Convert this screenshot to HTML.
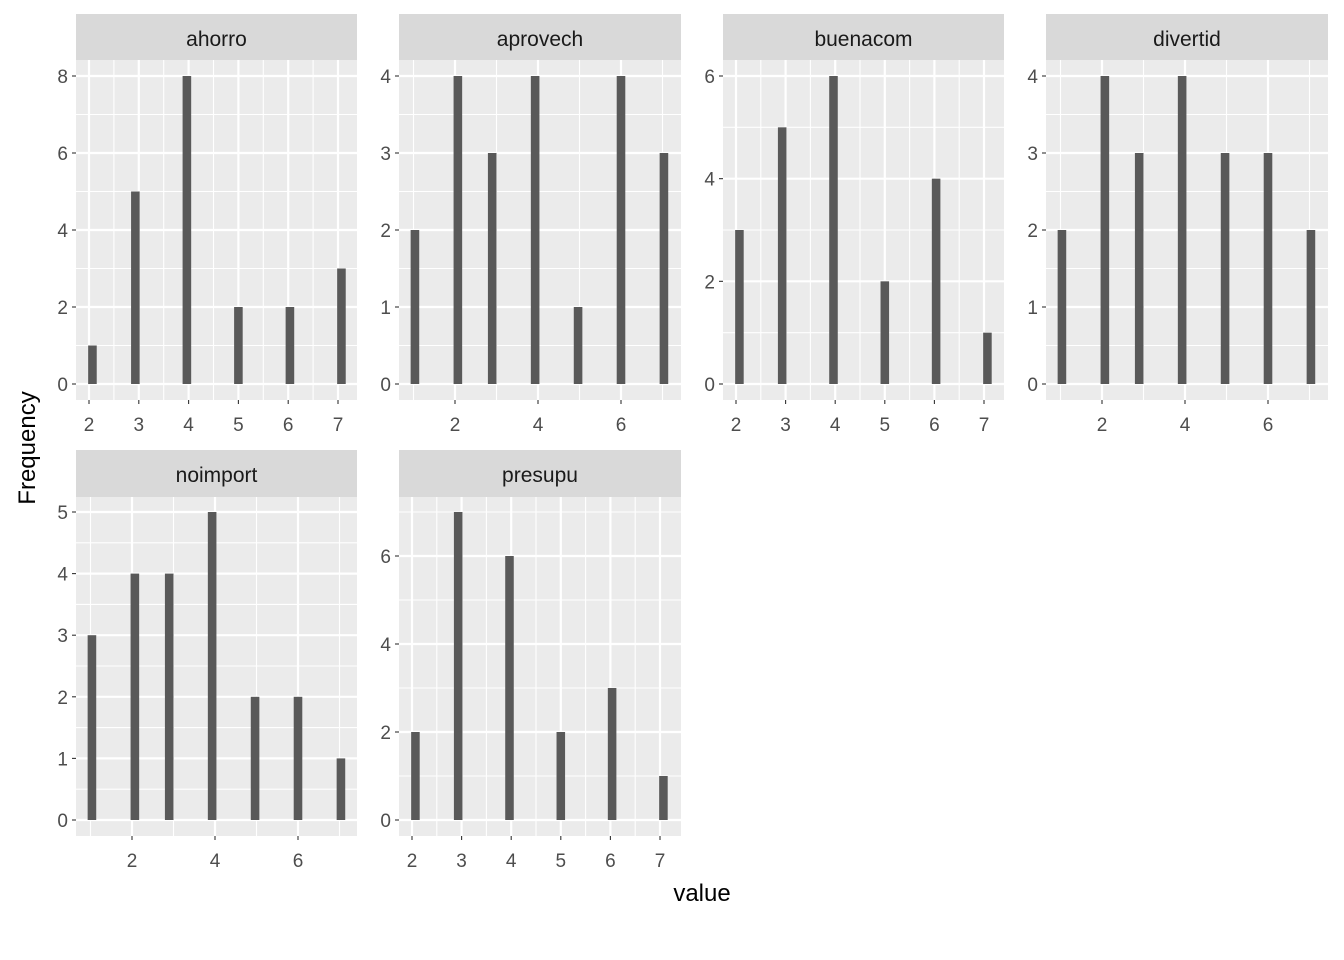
<!DOCTYPE html>
<html><head><meta charset="utf-8">
<style>
body{margin:0;background:#fff;}
svg{display:block;font-family:"Liberation Sans",Arial,sans-serif;}
</style></head>
<body>
<svg id="chart" width="1344" height="960">
<text x="702" y="901" font-size="24" text-anchor="middle" fill="#000">value</text>
<text x="35" y="448" font-size="24" text-anchor="middle" fill="#000" transform="rotate(-90 35 448)">Frequency</text>
</svg>
<script>
// data
const facetNames = ["ahorro","aprovech","buenacom","divertid","noimport","presupu"];
const ahorroValues = [2,3,4,5,6,7];
const ahorroCounts = [1,5,8,2,2,3];
const aprovechValues = [1,2,3,4,5,6,7];
const aprovechCounts = [2,4,3,4,1,4,3];
const buenacomValues = [2,3,4,5,6,7];
const buenacomCounts = [3,5,6,2,4,1];
const divertidValues = [1,2,3,4,5,6,7];
const divertidCounts = [2,4,3,4,3,3,2];
const noimportValues = [1,2,3,4,5,6,7];
const noimportCounts = [3,4,4,5,2,2,1];
const presupuValues = [2,3,4,5,6,7];
const presupuCounts = [2,7,6,2,3,1];
const xTicksA = [2,3,4,5,6,7];
const xTicksB = [2,4,6];
const yTicks = {ahorro:[0,2,4,6,8],aprovech:[0,1,2,3,4],buenacom:[0,2,4,6],divertid:[0,1,2,3,4],noimport:[0,1,2,3,4,5],presupu:[0,2,4,6]};

const NS="http://www.w3.org/2000/svg";
const svg=document.getElementById('chart');
function mk(tag,attrs,parent){const e=document.createElementNS(NS,tag);for(const k in attrs)e.setAttribute(k,attrs[k]);(parent||svg).appendChild(e);return e;}

const layout=[
 {l:76,r:357,st:14,pt:60,pb:400,x2:89,k:49.8,y0:384,yt:76},
 {l:399,r:681,st:14,pt:60,pb:400,x2:455,k:41.5,y0:384,yt:76},
 {l:723,r:1004,st:14,pt:60,pb:400,x2:736,k:49.6,y0:384,yt:76},
 {l:1046,r:1328,st:14,pt:60,pb:400,x2:1102,k:41.5,y0:384,yt:76},
 {l:76,r:357,st:450,pt:497,pb:836,x2:132,k:41.5,y0:820,yt:512},
 {l:399,r:681,st:450,pt:497,pb:836,x2:412,k:49.6,y0:820,yt:512}
];
const vals=[ahorroValues,aprovechValues,buenacomValues,divertidValues,noimportValues,presupuValues];
const cnts=[ahorroCounts,aprovechCounts,buenacomCounts,divertidCounts,noimportCounts,presupuCounts];
const xts=[xTicksA,xTicksB,xTicksA,xTicksB,xTicksB,xTicksA];

facetNames.forEach((name,i)=>{
 const L=layout[i],V=vals[i],C=cnts[i],XT=xts[i],YT=yTicks[name];
 const ymax=Math.max(...C);
 const xs=v=>L.x2+(v-2)*L.k;
 const ys=c=>L.y0-(c/ymax)*(L.y0-L.yt);
 const g=mk('g',{});
 
 
 const strip=mk('rect',{x:L.l,y:L.st,width:L.r-L.l,height:L.pt-L.st,fill:'#D9D9D9'},g);
 
 
 const st=mk('text',{x:(L.l+L.r)/2,y:L.st+32,'font-size':21,'text-anchor':'middle',fill:'#1A1A1A'},g);
 st.textContent=name;
 
 
 mk('rect',{x:L.l,y:L.pt,width:L.r-L.l,height:L.pb-L.pt,fill:'#EBEBEB'},g);
 const xstep=XT[1]-XT[0];
 for(let v=XT[0]-5*xstep;v<=XT[XT.length-1]+5*xstep;v+=xstep/2){
  const px=xs(v);if(px<L.l||px>L.r)continue;
  const major=XT.includes(v);
  mk('line',{x1:px,x2:px,y1:L.pt,y2:L.pb,stroke:'#fff','stroke-width':major?2.2:1.1},g);
 }
 const ystep=YT[1]-YT[0];
 for(let c=-ystep;c<=YT[YT.length-1]+ystep;c+=ystep/2){
  const py=ys(c);if(py<L.pt||py>L.pb)continue;
  const major=YT.includes(c);
  mk('line',{x1:L.l,x2:L.r,y1:py,y2:py,stroke:'#fff','stroke-width':major?2.2:1.1},g);
 }
 // ggplot-style binning (bins = 30)
 const mn=Math.min(...V),mx=Math.max(...V);
 const bw=(mx-mn)/29;
 const origin=bw/2+Math.floor((mn-bw/2)/bw)*bw;
 V.forEach((v,j)=>{
  let kb=Math.ceil((v-origin)/bw-1e-9)-1; if(kb<0)kb=0;
  const a=origin+kb*bw,b2=a+bw;
  const x0=xs(a),x1=xs(b2);
  const b=mk('rect',{x:x0,y:ys(C[j]),width:x1-x0,height:ys(0)-ys(C[j]),fill:'#595959'},g);
  
  
 });
 YT.forEach(c=>{
  const py=ys(c);
  mk('line',{x1:L.l-4,x2:L.l,y1:py,y2:py,stroke:'#333','stroke-width':1.1},g);
  const t=mk('text',{x:L.l-8,y:py+7,'font-size':19,'text-anchor':'end',fill:'#4D4D4D'},g);
  t.textContent=c;
  
  
 });
 XT.forEach(v=>{
  const px=xs(v);
  mk('line',{x1:px,x2:px,y1:L.pb,y2:L.pb+4,stroke:'#333','stroke-width':1.1},g);
  const t=mk('text',{x:px,y:L.pb+31,'font-size':19,'text-anchor':'middle',fill:'#4D4D4D'},g);
  t.textContent=v;
  
  
 });
});
</script>
</body></html>
